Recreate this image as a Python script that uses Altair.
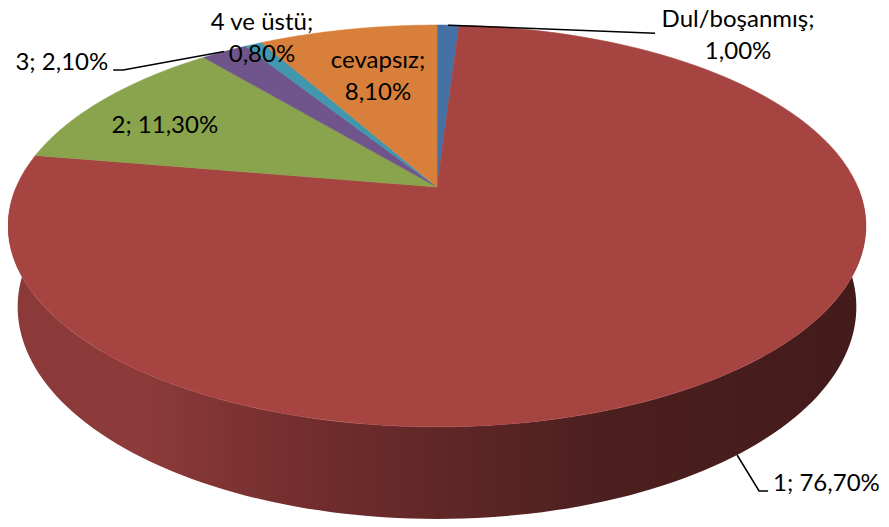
import altair as alt
import pandas as pd

# ---------------- data ----------------
categories = ["Dul/boşanmış", "1", "2", "3", "4 ve üstü", "cevapsız"]
values = [1.0, 76.7, 11.3, 2.1, 0.8, 8.1]
labels = ["Dul/boşanmış;\n1,00%", "1; 76,70%", "2; 11,30%", "3; 2,10%",
          "4 ve üstü;\n0,80%", "cevapsız;\n8,10%"]
colors = ["#4571A6", "#A64442", "#89A44D", "#70558C", "#4097AE", "#D8803B"]

# ---------------- layout / styling ----------------
W, HGT = 873, 511
CX, CY = 429.0, 179.0            # projected pie centre (plot px)
F, D, SA, CA = 1927.0, 4.58, 0.4595, 0.8882   # perspective camera
DEPTH = 0.218                    # pie thickness (radius units)
N = 120                          # points per arc

# label placement: anchor radius, anchor on bottom rim?, text offset, alignment,
# leader line elbow offset and horizontal tail
label_layout = {
    "Dul/boşanmış": dict(rho=1.0, bot=0, dx=290, dy=2, align="center", lead=1, ex=207, ey=8, hx=0),
    "1":            dict(rho=1.0, bot=1, dx=36, dy=36, align="left", lead=1, ex=22, ey=36, hx=9),
    "2":            dict(rho=0.7, bot=0, dx=-33.5, dy=9.2, align="center", lead=0, ex=0, ey=0, hx=0),
    "3":            dict(rho=1.0, bot=0, dx=-116, dy=18.7, align="right", lead=1, ex=-101, ey=18.5, hx=-10),
    "4 ve üstü":    dict(rho=1.0, bot=0, dx=8.5, dy=-14, align="center", lead=0, ex=0, ey=0, hx=0),
    "cevapsız":     dict(rho=0.7, bot=0, dx=6.5, dy=-3.7, align="center", lead=0, ex=0, ey=0, hx=0),
}

rows = []
for i, (c, v, l, col) in enumerate(zip(categories, values, labels, colors)):
    r = dict(cat=c, value=v, idx=i, label=l, color=col)
    r.update(label_layout[c])
    rows.append(r)
df = pd.DataFrame(rows)


def px(rho, ang, z):
    return (f"{CX} + {F}*({rho})*sin({ang}) / "
            f"({D} + ({rho})*cos({ang})*{CA} - ({z})*{SA})")


def py(rho, ang, z):
    return (f"{CY} - {F}*(({rho})*cos({ang})*{SA} + ({z})*{CA}) / "
            f"({D} + ({rho})*cos({ang})*{CA} - ({z})*{SA})")


xs = alt.Scale(domain=[0, W], nice=False, zero=False)
ys = alt.Scale(domain=[0, HGT], nice=False, zero=False, reverse=True)

base = (
    alt.Chart(df)
    .transform_window(cum="sum(value)", sort=[alt.SortField("idx")])
    .transform_joinaggregate(total="sum(value)")
    .transform_calculate(
        a0="2*PI*(datum.cum - datum.value)/datum.total",
        a1="2*PI*datum.cum/datum.total",
    )
    .transform_calculate(amid="(datum.a0 + datum.a1)/2")
)

# ---- side wall (front, visible half) ----
wall = (
    base.transform_calculate(w0="max(datum.a0, PI/2)", w1="min(datum.a1, 3*PI/2)")
    .transform_filter("datum.w1 > datum.w0")
    .transform_calculate(k=f"sequence(0, {2 * N + 2})")
    .transform_flatten(["k"])
    .transform_calculate(
        ang=(f"datum.k <= {N} ? datum.w0 + datum.k/{N}*(datum.w1 - datum.w0)"
             f" : datum.w1 - (datum.k - {N + 1})/{N}*(datum.w1 - datum.w0)"),
        zz=f"datum.k <= {N} ? 0 : -{DEPTH}",
    )
    .transform_calculate(
        X=px("1", "datum.ang", "datum.zz"),
        Y=py("1", "datum.ang", "datum.zz"),
    )
    .mark_line(
        fill=alt.LinearGradient(
            gradient="linear",
            stops=[
                alt.GradientStop(color="#8B3A39", offset=0.0),
                alt.GradientStop(color="#8D3B3A", offset=0.15),
                alt.GradientStop(color="#722D2D", offset=0.35),
                alt.GradientStop(color="#612727", offset=0.5),
                alt.GradientStop(color="#4B1F1E", offset=0.7),
                alt.GradientStop(color="#431B1B", offset=1.0),
            ],
            x1=0, x2=1, y1=0, y2=0,
        ),
        strokeOpacity=0,
    )
    .encode(
        x=alt.X("X:Q", scale=xs, axis=None),
        y=alt.Y("Y:Q", scale=ys, axis=None),
        order=alt.Order("k:Q"),
        detail="cat:N",
    )
)

# ---- top face sectors ----
top = (
    base.transform_calculate(k=f"sequence(0, {N + 3})")
    .transform_flatten(["k"])
    .transform_calculate(
        ang=f"datum.a0 + clamp(datum.k - 1, 0, {N})/{N}*(datum.a1 - datum.a0)",
        rr=f"(datum.k == 0 || datum.k == {N + 2}) ? 0 : 1",
    )
    .transform_calculate(
        X=px("datum.rr", "datum.ang", "0"),
        Y=py("datum.rr", "datum.ang", "0"),
    )
    .mark_line(strokeWidth=0.6)
    .encode(
        x=alt.X("X:Q", scale=xs, axis=None),
        y=alt.Y("Y:Q", scale=ys, axis=None),
        order=alt.Order("k:Q"),
        detail="cat:N",
        fill=alt.Fill("color:N", scale=None),
        stroke=alt.Stroke("color:N", scale=None),
    )
)

anchor = base.transform_calculate(
    zz=f"datum.bot == 1 ? -{DEPTH} : 0"
).transform_calculate(
    AX=px("datum.rho", "datum.amid", "datum.zz"),
    AY=py("datum.rho", "datum.amid", "datum.zz"),
)

# ---- leader lines ----
leaders = (
    anchor.transform_filter("datum.lead == 1")
    .transform_calculate(k="sequence(0, 3)")
    .transform_flatten(["k"])
    .transform_calculate(
        X="datum.k == 0 ? datum.AX : (datum.k == 1 ? datum.AX + datum.ex : datum.AX + datum.ex + datum.hx)",
        Y="datum.k == 0 ? datum.AY : datum.AY + datum.ey",
    )
    .mark_line(color="black", strokeWidth=1.5)
    .encode(
        x=alt.X("X:Q", scale=xs, axis=None),
        y=alt.Y("Y:Q", scale=ys, axis=None),
        order=alt.Order("k:Q"),
        detail="cat:N",
    )
)

# ---- labels ----
texts = []
for al in ["left", "center", "right"]:
    texts.append(
        anchor.transform_filter(f"datum.align == '{al}'")
        .transform_calculate(TX="datum.AX + datum.dx", TY="datum.AY + datum.dy")
        .mark_text(align=al, baseline="alphabetic", font="Lato", fontSize=24,
                   lineBreak="\n", lineHeight=32, color="black")
        .encode(
            x=alt.X("TX:Q", scale=xs, axis=None),
            y=alt.Y("TY:Q", scale=ys, axis=None),
            text="label:N",
        )
    )

chart = (
    alt.layer(wall, top, leaders, *texts)
    .properties(width=W, height=HGT, padding=0,
                autosize=alt.AutoSizeParams(type="none"))
    .configure_view(strokeWidth=0)
)

chart.save("out.html", embed_options={"renderer": "svg", "actions": False})
